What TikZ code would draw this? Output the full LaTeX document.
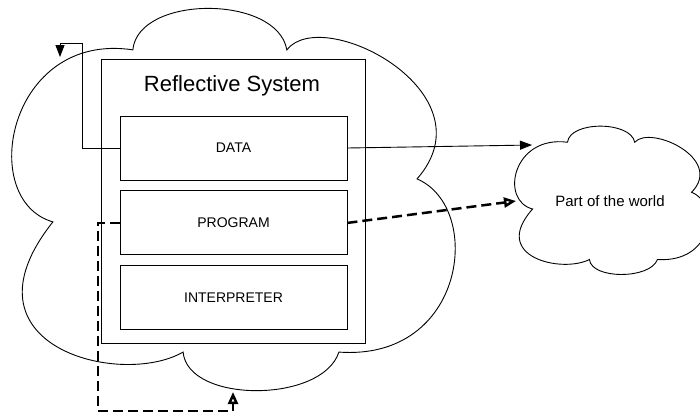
\documentclass[tikz,border=0pt]{standalone}
\usepackage{fontspec}
\setmainfont{Liberation Sans}
\usetikzlibrary{positioning, arrows.meta}

\tikzset{
    cloudshape/.pic={
        \draw[line width=0.9pt] (0.278,0.109)
            .. controls (0.29,-0.035) and (0.60,-0.035) .. (0.621,0.109)
            .. controls (0.70,-0.01) and (1.08,0.22) .. (0.911,0.445)
            .. controls (1.06,0.52) and (1.02,0.92) .. (0.737,0.896)
            .. controls (0.70,1.03) and (0.40,1.03) .. (0.390,0.896)
            .. controls (0.25,0.99) and (-0.12,0.88) .. (0.100,0.557)
            .. controls (-0.07,0.50) and (0.0,0.06) .. (0.278,0.109) -- cycle;
    }
}

\begin{document}
\begin{tikzpicture}[x=1pt, y=-1pt, node distance=10pt,
    box/.style={draw, line width=0.9pt, minimum width=227pt, minimum height=64pt, font=\fontsize{14}{16}\selectfont},
    solidarr/.style={-{Triangle[length=12pt, width=9pt]}, line width=0.9pt},
    dasharr/.style={-{Triangle[open, length=12pt, width=10pt]}, line width=2.5pt, dash pattern=on 10pt off 5pt}]
    \useasboundingbox (0,0) rectangle (700,413);

    % clouds
    \pic[xscale=449, yscale=384] at (8,8) {cloudshape};
    \pic[xscale=196, yscale=149] at (513,126) {cloudshape};
    \node[font=\fontsize{15}{18}\selectfont] (world) at (610,201) {Part of the world};

    % reflective system
    \node[draw, line width=0.9pt, minimum width=264pt, minimum height=284pt] (system) at (233,201) {};
    \node[font=\fontsize{22}{25}\selectfont, anchor=base] (title) at (232,91) {Reflective System};
    \node[box] (data) at (233.5,148) {DATA};
    \node[box] (program) [below=of data] {PROGRAM};
    \node[box] (interp) [below=of program] {INTERPRETER};

    \coordinate (selftop) at (60,57);
    \coordinate (selfbottom) at (233,392);
    \coordinate (corner) at (98,411);
    \coordinate (worldtop) at (532,145);
    \coordinate (worldside) at (516,201);

    \draw[solidarr] (data.west) -- ++(-37,0) |- ([yshift=14pt]selftop) -- (selftop);
    \draw[solidarr] (data.east) -- (worldtop);
    \draw[dasharr] (program.east) -- (worldside);
    \draw[dasharr] (program.west) -| (corner) -| (selfbottom);
\end{tikzpicture}
\end{document}
